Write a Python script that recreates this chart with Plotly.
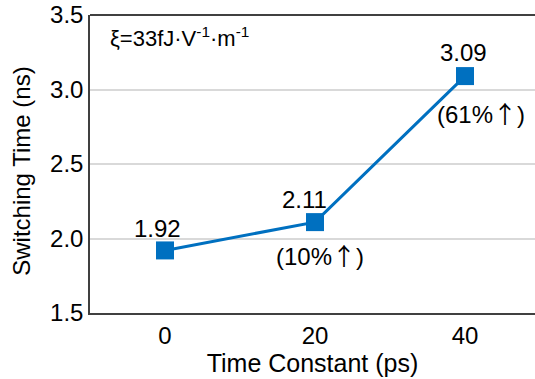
import plotly.graph_objects as go

time_constant = [0, 20, 40]
switching_time = [1.92, 2.11, 3.09]
value_labels = ["1.92", "2.11", "3.09"]
increase_labels = ["", "(10%<span style='font-family:Noto Sans CJK SC'>↑</span>)",
                   "(61%<span style='font-family:Noto Sans CJK SC'>↑</span>)"]
y_ticks = [1.5, 2.0, 2.5, 3.0, 3.5]
y_tick_text = ["1.5", "2.0", "2.5", "3.0", "3.5"]
x_ticks = [0, 20, 40]

# label offsets (pixels)
value_dx = [-8, -11, -2]
value_dy = [22, 23, 24]
incr_dx = [0, 5, 16]
incr_dy = [0, -32, -36]

FONT = "Liberation Sans, Arial, sans-serif"
BLUE = "#0070C0"

fig = go.Figure()
fig.add_trace(go.Scatter(
    x=time_constant, y=switching_time, mode="lines+markers",
    line=dict(color=BLUE, width=3),
    marker=dict(symbol="square", size=18, color=BLUE),
    cliponaxis=False, showlegend=False,
))
for x, y, t, dx, dy in zip(time_constant, switching_time, value_labels, value_dx, value_dy):
    fig.add_annotation(x=x, y=y, text=t, showarrow=False, xshift=dx, yshift=dy,
                       font=dict(family=FONT, size=24, color="black"))
for x, y, t, dx, dy in zip(time_constant, switching_time, increase_labels, incr_dx, incr_dy):
    if t:
        fig.add_annotation(x=x, y=y, text=t, showarrow=False, xshift=dx, yshift=dy,
                           font=dict(family=FONT, size=24, color="black"))

fig.add_annotation(xref="paper", yref="paper", x=0.04, y=0.98, xanchor="left", yanchor="top",
                   text="ξ=33fJ·V<sup>-1</sup>·m<sup>-1</sup>", showarrow=False,
                   font=dict(family=FONT, size=22, color="black"))

# y-axis title
fig.add_annotation(xref="paper", yref="paper", x=-0.153, y=0.477, xanchor="center", yanchor="middle",
                   text="Switching Time (ns)", textangle=-90, showarrow=False,
                   font=dict(family=FONT, size=24, color="black"))

fig.add_shape(type="line", xref="paper", yref="paper", x0=0, x1=1, y0=1, y1=1,
              line=dict(color="black", width=1.5))

fig.update_layout(
    width=535, height=379,
    margin=dict(l=90, r=0, t=15, b=66),
    paper_bgcolor="white", plot_bgcolor="white",
    font=dict(family=FONT, color="black"),
    xaxis=dict(range=[-10, 49.33], tickvals=x_ticks, ticks="", showgrid=False, zeroline=False,
               showline=True, linecolor="#404040", linewidth=1.5,
               tickfont=dict(size=24), title=dict(text="Time Constant (ps)", font=dict(size=25), standoff=0)),
    yaxis=dict(range=[1.5, 3.5], tickvals=y_ticks, ticktext=y_tick_text, ticks="",
               showgrid=True, gridcolor="#D9D9D9", gridwidth=1.5, zeroline=False,
               showline=True, linecolor="#404040", linewidth=1.5,
               tickfont=dict(size=24)),
)
fig.write_html("out.html")
